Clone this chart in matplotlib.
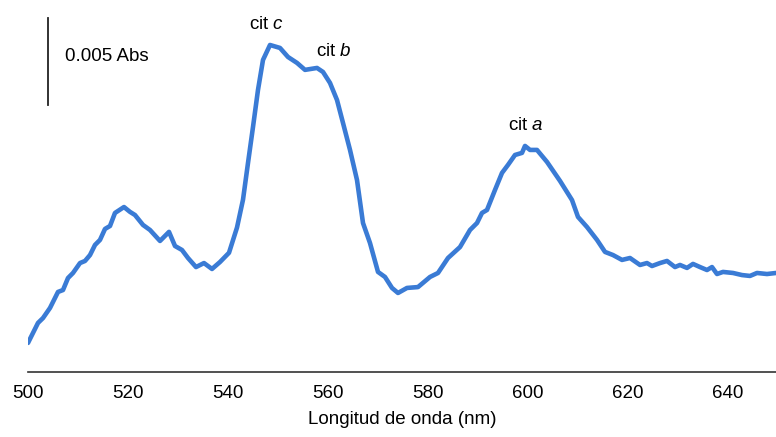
import numpy as np
import matplotlib
matplotlib.use('Agg')
import matplotlib.pyplot as plt

plt.rcParams['font.family'] = ['Liberation Sans', 'DejaVu Sans']
plt.rcParams['mathtext.fontset'] = 'custom'
plt.rcParams['mathtext.rm'] = 'Liberation Sans'
plt.rcParams['mathtext.it'] = 'Liberation Sans:italic'

# Espectro diferencial (longitud de onda en nm, absorbancia en mAbs)
longitud_onda = [
    500.0, 502.0, 503.0, 504.4, 506.0, 507.0, 508.0, 509.0, 510.4, 511.4,
    512.4, 513.4, 514.4, 515.4, 516.4, 517.4, 519.2, 520.4, 521.4, 523.0,
    524.4, 526.4, 528.2, 529.4, 530.8, 532.0, 533.6, 535.2, 536.8, 538.4,
    540.2, 541.8, 543.0, 544.0, 545.0, 546.0, 547.0, 548.4, 550.4, 552.0,
    553.8, 555.4, 557.8, 559.0, 560.4, 561.8, 563.0, 564.4, 565.8, 567.0,
    568.4, 570.0, 571.4, 572.8, 574.0, 575.8, 578.0, 580.4, 582.0, 584.0,
    586.4, 588.4, 589.8, 590.8, 591.8, 593.4, 594.8, 596.0, 597.4, 598.8,
    599.4, 600.4, 601.8, 603.8, 606.4, 608.8, 610.0, 611.8, 613.8, 615.4,
    617.0, 618.8, 620.4, 622.4, 623.8, 624.8, 626.4, 627.8, 629.4, 630.4,
    631.8, 633.0, 634.4, 635.8, 636.8, 637.8, 639.0, 641.0, 642.8, 644.4,
    645.8, 647.8, 649.6,
]
absorbancia_mabs = [
    1.67, 2.82, 3.10, 3.68, 4.60, 4.71, 5.40, 5.69, 6.26, 6.38,
    6.72, 7.30, 7.59, 8.22, 8.39, 9.14, 9.48, 9.20, 9.02, 8.45,
    8.16, 7.53, 8.05, 7.24, 7.01, 6.55, 6.03, 6.26, 5.92, 6.32,
    6.85, 8.30, 9.90, 12.01, 14.08, 16.21, 17.93, 18.79, 18.62, 18.10,
    17.76, 17.36, 17.47, 17.24, 16.61, 15.63, 14.31, 12.76, 11.03, 8.56,
    7.41, 5.75, 5.46, 4.83, 4.54, 4.83, 4.88, 5.46, 5.69, 6.55,
    7.18, 8.16, 8.56, 9.14, 9.31, 10.46, 11.44, 11.90, 12.47, 12.59,
    12.99, 12.76, 12.76, 12.07, 10.98, 9.88, 8.91, 8.33, 7.59, 6.90,
    6.72, 6.44, 6.55, 6.15, 6.26, 6.09, 6.26, 6.38, 6.03, 6.15,
    5.98, 6.21, 6.03, 5.86, 6.03, 5.63, 5.75, 5.69, 5.57, 5.52,
    5.69, 5.63, 5.69,
]

# Etiquetas de los citocromos: (texto, x en nm, y en mAbs)
etiquetas = [
    ('cit $\\it{c}$', 547.8, 19.94),
    ('cit $\\it{b}$', 561.2, 18.39),
    ('cit $\\it{a}$', 599.6, 14.19),
]
ticks_x = [500, 520, 540, 560, 580, 600, 620, 640]

x = np.array(longitud_onda)
y = np.array(absorbancia_mabs) / 1000.0

fig = plt.figure(figsize=(7.76, 4.37), dpi=100)
ax = fig.add_axes([28 / 776, 65 / 437, 1 - 28 / 776, 362 / 437])

ax.plot(x, y, color='#3a7bd5', lw=3.3, solid_joinstyle='round', solid_capstyle='round')

for texto, ex, ey in etiquetas:
    ax.text(ex, ey / 1000.0, texto, ha='center', va='center', fontsize=13.5)

# Barra de escala 0.005 Abs
ax.plot([504.0, 504.0], [0.01534, 0.02034], color='#222222', lw=1.3)
ax.text(507.4, 0.0181, '0.005 Abs', ha='left', va='center', fontsize=13.5)

ax.set_xlim(500, 649.6)
ax.set_ylim(0, 0.0208)
ax.set_xticks(ticks_x)
ax.set_yticks([])
ax.tick_params(axis='x', length=0, pad=9, labelsize=13.5)
for lado in ['top', 'right', 'left']:
    ax.spines[lado].set_visible(False)
ax.spines['bottom'].set_color('#333333')
ax.spines['bottom'].set_linewidth(1.2)
ax.set_xlabel('Longitud de onda (nm)', fontsize=13.5, labelpad=7)

fig.savefig('out.png', dpi=100)
